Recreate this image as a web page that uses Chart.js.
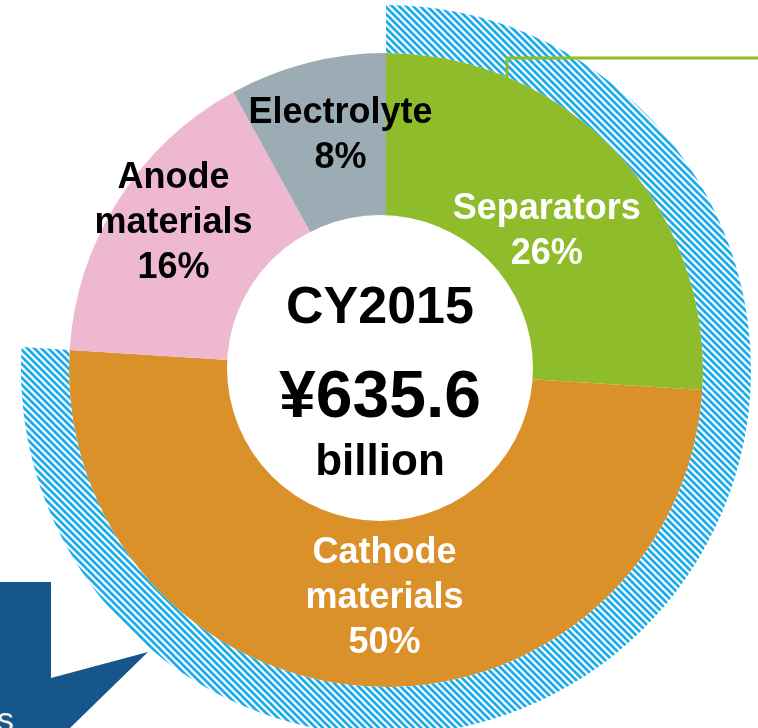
<!DOCTYPE html>
<html>
<head>
<meta charset="utf-8">
<script src="https://cdn.jsdelivr.net/npm/chart.js@4.4.1/dist/chart.umd.min.js"></script>
<style>
    html, body { margin: 0; padding: 0; background: #fff; }
    #wrap { position: relative; width: 758px; height: 728px; overflow: hidden; }
</style>
</head>
<body>
<div id="wrap"><canvas id="marketChart" width="758" height="728"></canvas></div>
<script>
// Data
const categories = ['Separators', 'Cathode materials', 'Anode materials', 'Electrolyte'];
const shares = [26, 50, 16, 8];
const hatchedParts = [true, true, false, false];   // outer striped band: separators + cathode
const centerLines = ['CY2015', '¥635.6', 'billion'];

// Styles
const sliceColors = ['#8fbc2b', '#da9129', '#eeb8d0', '#9bacb4'];
const labelColors = ['#ffffff', '#ffffff', '#000000', '#000000'];
const labelNudge = [[-8, 17], [13, -6], [-17, -26], [12, -13]];
const centerFonts = [52, 66, 44];
const centerBaselines = [-47, 47, 105];
const FONT = '"Liberation Sans", Arial, sans-serif';

const canvas = document.getElementById('marketChart');
const ctx = canvas.getContext('2d');

// diagonal blue stripes for the outer band
function makeHatch() {
    const P = 7;
    const tile = document.createElement('canvas');
    tile.width = P;
    tile.height = P;
    const g = tile.getContext('2d');
    const img = g.createImageData(P, P);
    for (let y = 0; y < P; y++) {
        for (let x = 0; x < P; x++) {
            const d = ((x - y) % P + P) % P;
            const col = d < 3 ? [27, 174, 234] : (d === 3 || d === 6) ? [150, 214, 244] : [255, 255, 255];
            const i = (y * P + x) * 4;
            img.data[i] = col[0];
            img.data[i + 1] = col[1];
            img.data[i + 2] = col[2];
            img.data[i + 3] = 255;
        }
    }
    g.putImageData(img, 0, 0);
    return ctx.createPattern(tile, 'repeat');
}
const hatch = makeHatch();

// Labels, centre disc and the slide decorations
const overlay = {
    id: 'overlay',
    afterDatasetsDraw(chart) {
        const c = chart.ctx;
        const arcs = chart.getDatasetMeta(1).data;
        const cx = arcs[0].x, cy = arcs[0].y;
        c.save();

        // white centre disc (sits slightly left of the ring centre in the original)
        c.fillStyle = '#ffffff';
        c.beginPath();
        c.arc(cx - 6, cy - 2, 153, 0, Math.PI * 2);
        c.fill();

        c.textAlign = 'center';
        c.textBaseline = 'alphabetic';
        c.fillStyle = '#000000';
        centerLines.forEach((t, k) => {
            c.font = 'bold ' + centerFonts[k] + 'px ' + FONT;
            c.fillText(t, cx - 6, cy + centerBaselines[k]);
        });

        // slice labels
        c.font = 'bold 36px ' + FONT;
        arcs.forEach((arc, i) => {
            const p = arc.getProps(['startAngle', 'endAngle', 'innerRadius', 'outerRadius'], true);
            const mid = (p.startAngle + p.endAngle) / 2;
            const r = (p.innerRadius + p.outerRadius) / 2;
            const x = cx + Math.cos(mid) * r + labelNudge[i][0];
            const y = cy + Math.sin(mid) * r + labelNudge[i][1];
            const lines = categories[i].split(' ').concat(shares[i] + '%');
            c.fillStyle = labelColors[i];
            lines.forEach((t, k) => {
                c.fillText(t, x, y + (k - (lines.length - 1) / 2) * 45 + 13);
            });
        });

        // green callout line top right
        c.strokeStyle = '#8fbc2b';
        c.lineWidth = 3;
        c.beginPath();
        c.moveTo(507, 80);
        c.lineTo(507, 58);
        c.lineTo(758, 58);
        c.stroke();

        // dark blue arrow bottom left
        c.fillStyle = '#17568a';
        c.beginPath();
        c.moveTo(0, 582);
        c.lineTo(51, 582);
        c.lineTo(51, 678);
        c.lineTo(148, 652);
        c.lineTo(70, 728);
        c.lineTo(0, 728);
        c.closePath();
        c.fill();
        c.fillStyle = '#f2f2f2';
        c.textAlign = 'left';
        c.font = '34px ' + FONT;
        c.fillText('s', -3, 731);

        c.restore();
    }
};

// üç© Market share doughnut
new Chart(ctx, {
    type: 'doughnut',
    data: {
        labels: categories,
        datasets: [{
            data: shares,
            backgroundColor: hatchedParts.map(h => h ? hatch : 'rgba(0,0,0,0)'),
            borderWidth: 0,
            weight: 48
        }, {
            data: shares,
            backgroundColor: sliceColors,
            borderWidth: 0,
            weight: 171
        }]
    },
    options: {
        responsive: false,
        animation: false,
        events: [],
        radius: 365,
        cutout: '40%',
        layout: { padding: { left: 14, top: 12, right: 0, bottom: 0 } },
        plugins: {
            legend: { display: false },
            tooltip: { enabled: false }
        }
    },
    plugins: [overlay]
});
</script>
</body>
</html>
